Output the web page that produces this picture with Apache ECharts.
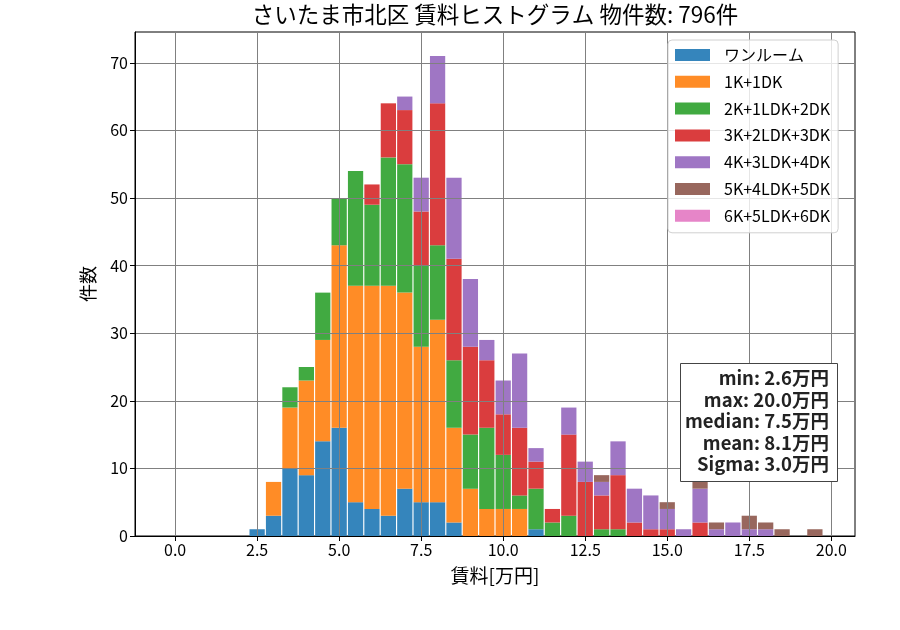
<!DOCTYPE html>
<html>
<head>
<meta charset="utf-8">
<script src="https://cdn.jsdelivr.net/npm/echarts@6/dist/echarts.min.js"></script>
<style>html,body{margin:0;padding:0;background:#fff}#c{width:900px;height:630px}</style>
</head>
<body>
<div id="c"></div>
<script>
// Bin centers (万円)
const binCenters = [2.5,3.0,3.5,4.0,4.5,5.0,5.5,6.0,6.5,7.0,7.5,8.0,8.5,9.0,9.5,10.0,10.5,11.0,11.5,12.0,12.5,13.0,13.5,14.0,14.5,15.0,15.5,16.0,16.5,17.0,17.5,18.0,18.5,19.0,19.5];
const binWidth = 0.5;
const seriesNames = ['ワンルーム','1K+1DK','2K+1LDK+2DK','3K+2LDK+3DK','4K+3LDK+4DK','5K+4LDK+5DK','6K+5LDK+6DK'];
const oneRoom = [1,3,10,9,14,16,5,4,3,7,5,5,2,0,0,0,0,1,0,0,0,0,0,0,0,0,0,0,0,0,0,0,0,0,0];
const k1dk    = [0,5,9,14,15,27,32,33,34,29,23,27,14,7,4,4,4,0,0,0,0,0,0,0,0,0,0,0,0,0,0,0,0,0,0];
const k2ldk   = [0,0,3,2,7,7,17,12,19,19,12,11,10,8,12,8,2,6,2,3,0,1,1,0,0,0,0,0,0,0,0,0,0,0,0];
const k3ldk   = [0,0,0,0,0,0,0,3,8,8,8,21,15,13,10,6,10,4,2,12,8,5,8,2,1,1,0,2,0,0,0,0,0,0,0];
const k4ldk   = [0,0,0,0,0,0,0,0,0,2,5,7,12,10,3,5,11,2,0,4,3,2,5,5,5,3,1,5,1,2,1,1,0,0,0];
const k5ldk   = [0,0,0,0,0,0,0,0,0,0,0,0,0,0,0,0,0,0,0,0,0,1,0,0,0,1,0,2,1,0,2,1,1,0,1];
const k6ldk   = [0,0,0,0,0,0,0,0,0,0,0,0,0,0,0,0,0,0,0,0,0,0,0,0,0,0,0,0,0,0,0,0,0,0,0];
const xTicks = [0,2.5,5,7.5,10,12.5,15,17.5,20];
const yTicks = [0,10,20,30,40,50,60,70];
const titleText = 'さいたま市北区 賃料ヒストグラム 物件数: 796件';
const statsLines = ['min: 2.6万円','max: 20.0万円','median: 7.5万円','mean: 8.1万円','Sigma: 3.0万円'];

const colors = ['#3585bc','#ff8c26','#41aa41','#da3d3e','#9f76c4','#98675d','#e685c8'];
const allSeries = [oneRoom,k1dk,k2ldk,k3ldk,k4ldk,k5ldk,k6ldk];
const FONT = '"Noto Sans CJK JP", "Noto Sans", sans-serif';

// build stacked [x, base, top] rows
const running = binCenters.map(function(){ return 0; });
const stackedData = allSeries.map(function(vals){
  return binCenters.map(function(x, j){
    const base = running[j];
    running[j] += vals[j];
    return [x, base, running[j]];
  });
});

function renderBar(params, api){
  const x = api.value(0), b = api.value(1), t = api.value(2);
  if (t <= b) return null;
  const p0 = api.coord([x, b]);
  const p1 = api.coord([x, t]);
  const w = api.size([binWidth * 0.93, 0])[0];
  return {
    type:'rect',
    shape:{x:p0[0] - w/2, y:p1[1], width:w, height:p0[1] - p1[1]},
    style:{fill: colors[params.seriesIndex]}
  };
}

const chart = echarts.init(document.getElementById('c'), null, {renderer:'canvas'});
chart.setOption({
  animation:false,
  color: colors,
  textStyle:{fontFamily:FONT},
  title:{
    text:titleText, left:495, top:3, textAlign:'center', padding:0,
    textStyle:{fontFamily:FONT, fontSize:22.5, fontWeight:'normal', color:'#000'}
  },
  grid:{left:135, right:45, top:32, bottom:94, show:true, borderColor:'#000', borderWidth:1, backgroundColor:'transparent'},
  legend:{
    orient:'vertical', left:668, top:40, padding:[7,8,9,7],
    itemWidth:35, itemHeight:12, itemGap:10.8, icon:'rect',
    backgroundColor:'rgba(255,255,255,0.8)', borderColor:'#d0d0d0', borderWidth:1, borderRadius:4,
    textStyle:{fontFamily:FONT, fontSize:16, color:'#000', lineHeight:16, padding:[0,0,0,9]},
    data: seriesNames
  },
  xAxis:{
    type:'value', min:-1.2225, max:20.7225, z:3,
    name:'賃料[万円]', nameLocation:'middle', nameGap:30,
    nameTextStyle:{fontFamily:FONT, fontSize:19, color:'#000'},
    axisLine:{show:true, onZero:false, lineStyle:{color:'#000', width:1}},
    axisTick:{show:true, length:5, lineStyle:{color:'#000'}, customValues:xTicks},
    axisLabel:{fontFamily:FONT, fontSize:16, color:'#000', margin:6, customValues:xTicks,
      formatter:function(v){return v.toFixed(1);}},
    splitLine:{show:true, lineStyle:{color:'#808080', width:1}}
  },
  yAxis:{
    type:'value', min:0, max:74.55, z:3,
    name:'件数', nameLocation:'middle', nameGap:38, nameRotate:90,
    nameTextStyle:{fontFamily:FONT, fontSize:18, color:'#000'},
    axisLine:{show:true, onZero:false, lineStyle:{color:'#000', width:1}},
    axisTick:{show:true, length:5, lineStyle:{color:'#000'}, customValues:yTicks},
    axisLabel:{fontFamily:FONT, fontSize:16, color:'#000', margin:7, customValues:yTicks},
    splitLine:{show:true, lineStyle:{color:'#808080', width:1}}
  },
  series: seriesNames.map(function(name, i){
    return {
      name:name, type:'custom', renderItem:renderBar,
      itemStyle:{color:colors[i]},
      encode:{x:0, y:[1,2]},
      data: stackedData[i]
    };
  }),
  graphic:[
    {type:'rect', z:10, shape:{x:680.5, y:363.5, width:157, height:118},
     style:{fill:'#fff', stroke:'#444', lineWidth:1}},
    {type:'text', z:11, x:829, y:367.5,
     style:{text:statsLines.join('\n'), align:'right', verticalAlign:'top',
       font:'bold 18.5px ' + FONT, lineHeight:21.5, fill:'#222'}}
  ]
});
</script>
</body>
</html>
